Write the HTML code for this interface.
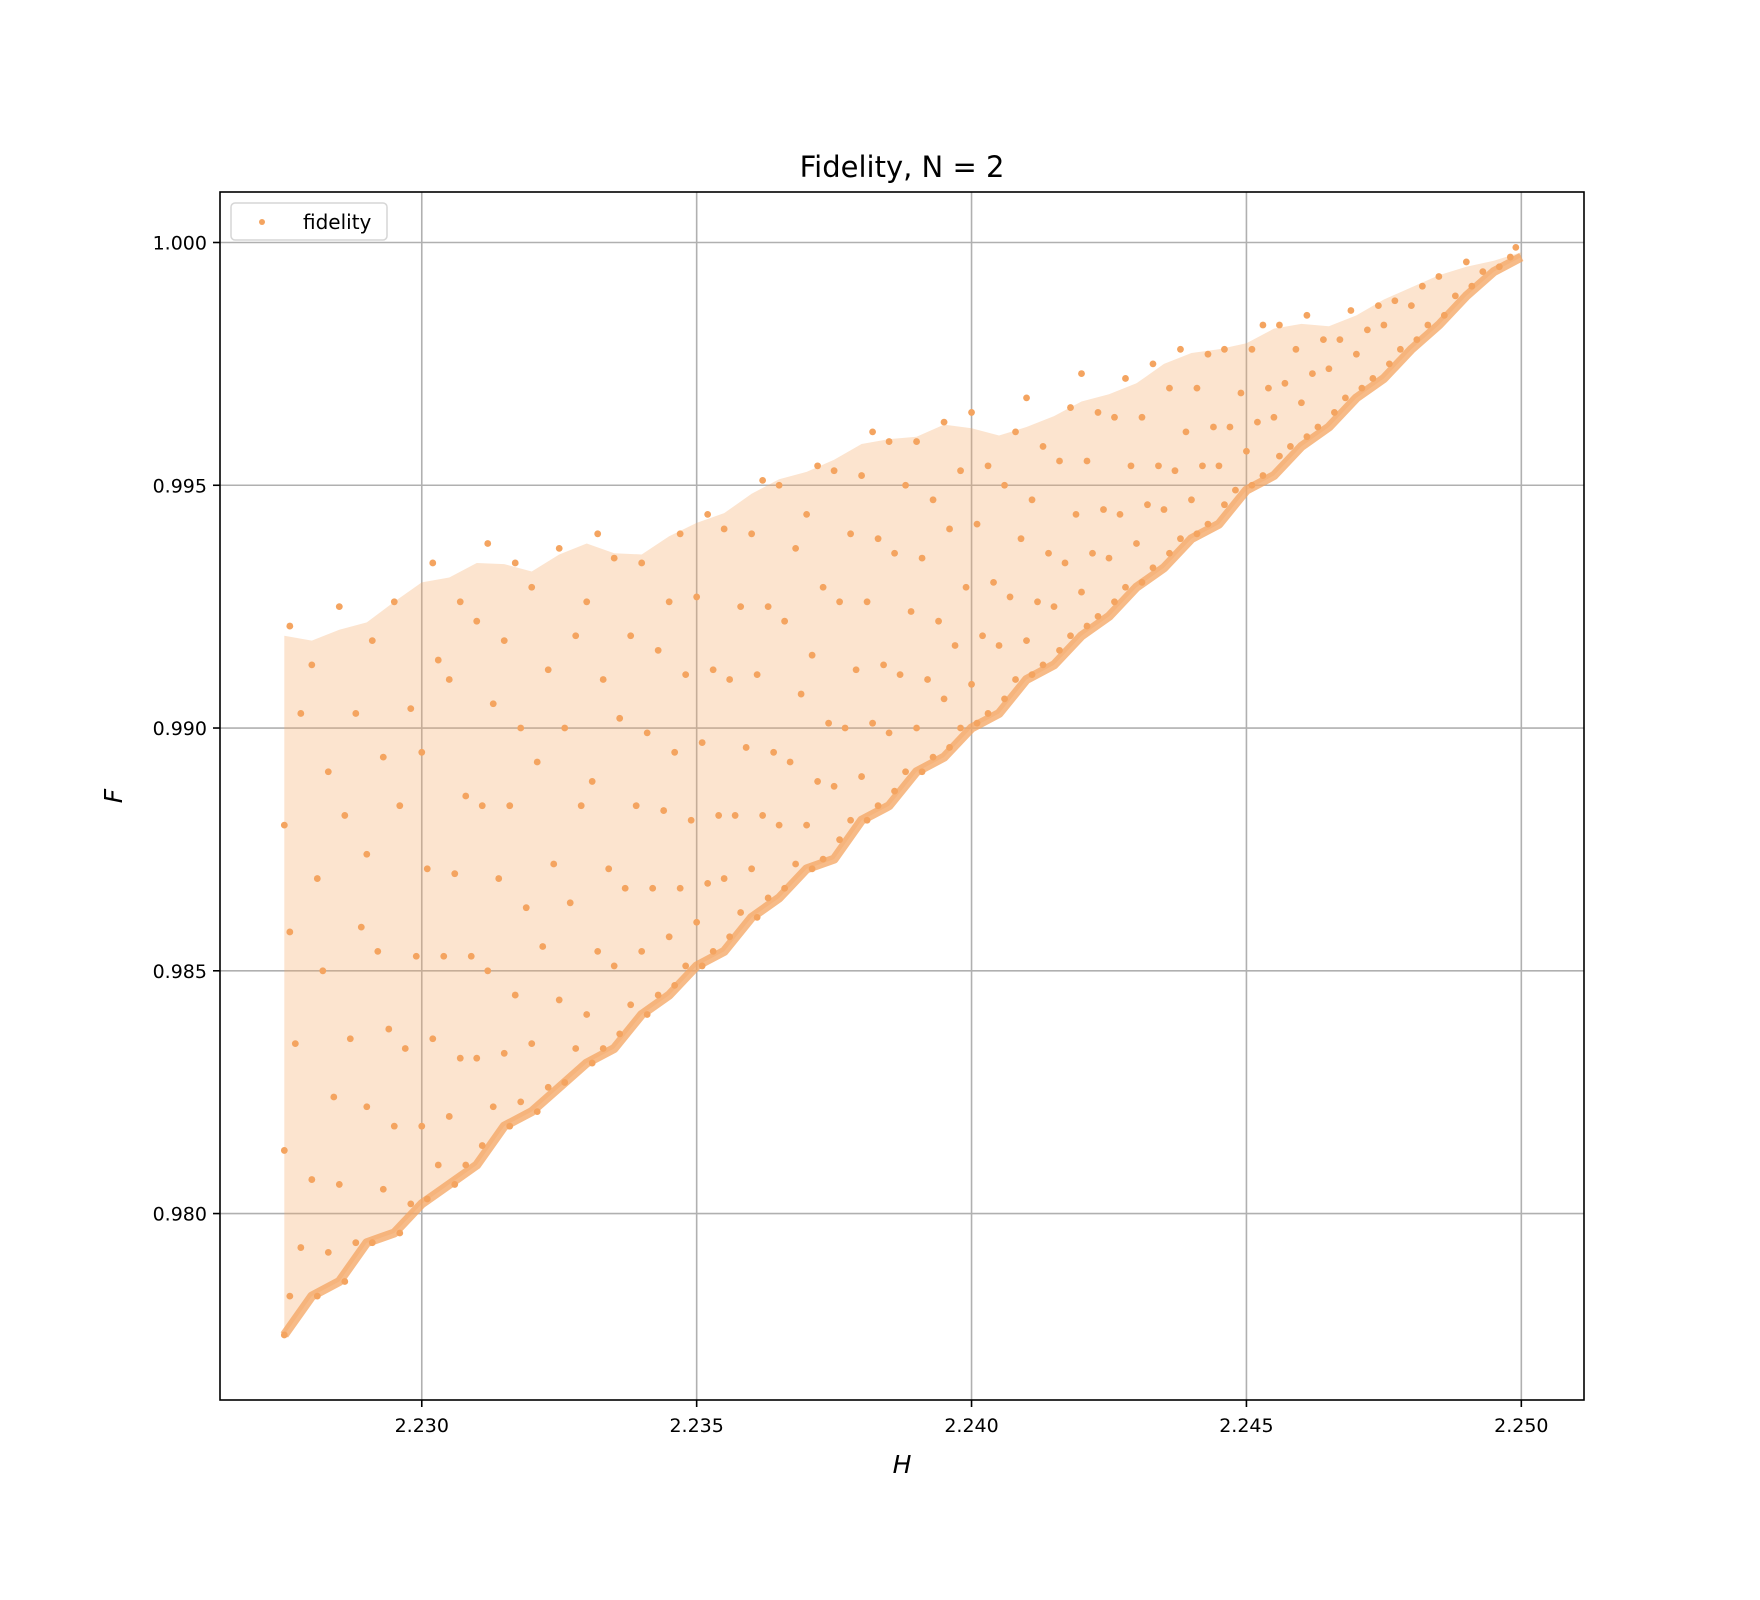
<!DOCTYPE html>
<html><head><meta charset="utf-8"><style>
html,body{margin:0;padding:0;background:#fff;}
svg{display:block;font-family:"DejaVu Sans","Liberation Sans",sans-serif;}
</style></head><body>
<svg id="chart" width="1760" height="1600" viewBox="0 0 1760 1600" xmlns="http://www.w3.org/2000/svg">
<rect width="1760" height="1600" fill="#fff"/>
<text x="902" y="177" font-size="29" text-anchor="middle">Fidelity, N = 2</text>
<g id="grid"></g>
<g id="density"></g>
<g id="points"></g>
<g id="axes"></g>
<text x="902" y="1473" font-size="25" font-style="italic" text-anchor="middle">H</text>
<text x="0" y="0" font-size="25" font-style="italic" text-anchor="middle" transform="translate(122,796) rotate(-90)">F</text>
<g>
<rect x="231" y="203" width="156" height="37" rx="4" fill="#fff" fill-opacity="0.8" stroke="#d6d6d6" stroke-width="1.5"/>
<circle cx="262" cy="222" r="3" fill="#f4a460"/>
<text x="303" y="229" font-size="20">fidelity</text>
</g>
</svg>
<script>
const xTicks = [2.230, 2.235, 2.240, 2.245, 2.250];
const xTickLabels = ["2.230", "2.235", "2.240", "2.245", "2.250"];
const yTicks = [0.980, 0.985, 0.990, 0.995, 1.000];
const yTickLabels = ["0.980", "0.985", "0.990", "0.995", "1.000"];
const xDomain = [2.22633, 2.25114];
const yDomain = [0.97616, 1.00104];
const fidelityPoints = [
[2.2275,.9775],[2.2276,.9783],[2.2278,.9793],[2.2275,.9813],[2.2277,.9835],[2.2276,.9858],[2.2275,.9880],[2.2278,.9903],[2.2276,.9921],
[2.2281,.9783],[2.2283,.9792],[2.2280,.9807],[2.2284,.9824],[2.2282,.9850],[2.2281,.9869],[2.2283,.9891],[2.2280,.9913],
[2.2286,.9786],[2.2288,.9794],[2.2285,.9806],[2.2287,.9836],[2.2289,.9859],[2.2286,.9882],[2.2288,.9903],[2.2285,.9925],
[2.2291,.9794],[2.2293,.9805],[2.2290,.9822],[2.2294,.9838],[2.2292,.9854],[2.2290,.9874],[2.2293,.9894],[2.2291,.9918],
[2.2296,.9796],[2.2298,.9802],[2.2295,.9818],[2.2297,.9834],[2.2299,.9853],[2.2296,.9884],[2.2298,.9904],[2.2295,.9926],
[2.2301,.9803],[2.2303,.9810],[2.2300,.9818],[2.2302,.9836],[2.2304,.9853],[2.2301,.9871],[2.2300,.9895],[2.2303,.9914],[2.2302,.9934],
[2.2306,.9806],[2.2308,.9810],[2.2305,.9820],[2.2307,.9832],[2.2309,.9853],[2.2306,.9870],[2.2308,.9886],[2.2305,.9910],[2.2307,.9926],
[2.2311,.9814],[2.2313,.9822],[2.2310,.9832],[2.2312,.9850],[2.2314,.9869],[2.2311,.9884],[2.2313,.9905],[2.2310,.9922],[2.2312,.9938],
[2.2316,.9818],[2.2318,.9823],[2.2315,.9833],[2.2317,.9845],[2.2319,.9863],[2.2316,.9884],[2.2318,.9900],[2.2315,.9918],[2.2317,.9934],
[2.2321,.9821],[2.2323,.9826],[2.2320,.9835],[2.2322,.9855],[2.2324,.9872],[2.2321,.9893],[2.2323,.9912],[2.2320,.9929],
[2.2326,.9827],[2.2328,.9834],[2.2325,.9844],[2.2327,.9864],[2.2329,.9884],[2.2326,.9900],[2.2328,.9919],[2.2325,.9937],
[2.2331,.9831],[2.2333,.9834],[2.2330,.9841],[2.2332,.9854],[2.2334,.9871],[2.2331,.9889],[2.2333,.9910],[2.2330,.9926],[2.2332,.9940],
[2.2336,.9837],[2.2338,.9843],[2.2335,.9851],[2.2337,.9867],[2.2339,.9884],[2.2336,.9902],[2.2338,.9919],[2.2335,.9935],
[2.2341,.9841],[2.2343,.9845],[2.2340,.9854],[2.2342,.9867],[2.2344,.9883],[2.2341,.9899],[2.2343,.9916],[2.2340,.9934],
[2.2346,.9847],[2.2348,.9851],[2.2345,.9857],[2.2347,.9867],[2.2349,.9881],[2.2346,.9895],[2.2348,.9911],[2.2345,.9926],[2.2347,.9940],
[2.2351,.9851],[2.2353,.9854],[2.2350,.9860],[2.2352,.9868],[2.2354,.9882],[2.2351,.9897],[2.2353,.9912],[2.2350,.9927],[2.2352,.9944],
[2.2356,.9857],[2.2358,.9862],[2.2355,.9869],[2.2357,.9882],[2.2359,.9896],[2.2356,.9910],[2.2358,.9925],[2.2355,.9941],
[2.2361,.9861],[2.2363,.9865],[2.2360,.9871],[2.2362,.9882],[2.2364,.9895],[2.2361,.9911],[2.2363,.9925],[2.2360,.9940],[2.2362,.9951],
[2.2366,.9867],[2.2368,.9872],[2.2365,.9880],[2.2367,.9893],[2.2369,.9907],[2.2366,.9922],[2.2368,.9937],[2.2365,.9950],
[2.2371,.9871],[2.2373,.9873],[2.2370,.9880],[2.2372,.9889],[2.2374,.9901],[2.2371,.9915],[2.2373,.9929],[2.2370,.9944],[2.2372,.9954],
[2.2376,.9877],[2.2378,.9881],[2.2375,.9888],[2.2377,.9900],[2.2379,.9912],[2.2376,.9926],[2.2378,.9940],[2.2375,.9953],
[2.2381,.9881],[2.2383,.9884],[2.2380,.9890],[2.2382,.9901],[2.2384,.9913],[2.2381,.9926],[2.2383,.9939],[2.2380,.9952],[2.2382,.9961],
[2.2386,.9887],[2.2388,.9891],[2.2385,.9899],[2.2387,.9911],[2.2389,.9924],[2.2386,.9936],[2.2388,.9950],[2.2385,.9959],
[2.2391,.9891],[2.2393,.9894],[2.2390,.9900],[2.2392,.9910],[2.2394,.9922],[2.2391,.9935],[2.2393,.9947],[2.2390,.9959],
[2.2396,.9896],[2.2398,.9900],[2.2395,.9906],[2.2397,.9917],[2.2399,.9929],[2.2396,.9941],[2.2398,.9953],[2.2395,.9963],
[2.2401,.9901],[2.2403,.9903],[2.2400,.9909],[2.2402,.9919],[2.2404,.9930],[2.2401,.9942],[2.2403,.9954],[2.2400,.9965],
[2.2406,.9906],[2.2408,.9910],[2.2405,.9917],[2.2407,.9927],[2.2409,.9939],[2.2406,.9950],[2.2408,.9961],
[2.2411,.9911],[2.2413,.9913],[2.2410,.9918],[2.2412,.9926],[2.2414,.9936],[2.2411,.9947],[2.2413,.9958],[2.2410,.9968],
[2.2416,.9916],[2.2418,.9919],[2.2415,.9925],[2.2417,.9934],[2.2419,.9944],[2.2416,.9955],[2.2418,.9966],
[2.2421,.9921],[2.2423,.9923],[2.2420,.9928],[2.2422,.9936],[2.2424,.9945],[2.2421,.9955],[2.2423,.9965],[2.2420,.9973],
[2.2426,.9926],[2.2428,.9929],[2.2425,.9935],[2.2427,.9944],[2.2429,.9954],[2.2426,.9964],[2.2428,.9972],
[2.2431,.9930],[2.2433,.9933],[2.2430,.9938],[2.2432,.9946],[2.2434,.9954],[2.2431,.9964],[2.2433,.9975],
[2.2436,.9936],[2.2438,.9939],[2.2435,.9945],[2.2437,.9953],[2.2439,.9961],[2.2436,.9970],[2.2438,.9978],
[2.2441,.9940],[2.2443,.9942],[2.2440,.9947],[2.2442,.9954],[2.2444,.9962],[2.2441,.9970],[2.2443,.9977],
[2.2446,.9946],[2.2448,.9949],[2.2445,.9954],[2.2447,.9962],[2.2449,.9969],[2.2446,.9978],
[2.2451,.9950],[2.2453,.9952],[2.2450,.9957],[2.2452,.9963],[2.2454,.9970],[2.2451,.9978],[2.2453,.9983],
[2.2456,.9956],[2.2458,.9958],[2.2455,.9964],[2.2457,.9971],[2.2459,.9978],[2.2456,.9983],
[2.2461,.9960],[2.2463,.9962],[2.2460,.9967],[2.2462,.9973],[2.2464,.9980],[2.2461,.9985],
[2.2466,.9965],[2.2468,.9968],[2.2465,.9974],[2.2467,.9980],[2.2469,.9986],
[2.2471,.9970],[2.2473,.9972],[2.2470,.9977],[2.2472,.9982],[2.2474,.9987],
[2.2476,.9975],[2.2478,.9978],[2.2475,.9983],[2.2477,.9988],
[2.2481,.9980],[2.2483,.9983],[2.2480,.9987],[2.2482,.9991],
[2.2486,.9985],[2.2488,.9989],[2.2485,.9993],
[2.2491,.9991],[2.2493,.9994],[2.2490,.9996],
[2.2496,.9995],[2.2498,.9997],[2.2499,.9999]
];
const NS = "http://www.w3.org/2000/svg";
const plotL = 220, plotR = 1584, plotT = 192, plotB = 1400;
function xScale(v){ return plotL + (v - xDomain[0]) / (xDomain[1] - xDomain[0]) * (plotR - plotL); }
function yScale(v){ return plotB - (v - yDomain[0]) / (yDomain[1] - yDomain[0]) * (plotB - plotT); }
function mk(tag, attrs, parent){ const e = document.createElementNS(NS, tag); for (const k in attrs) e.setAttribute(k, attrs[k]); parent.appendChild(e); return e; }
const grid = document.getElementById('grid');
const axes = document.getElementById('axes');
xTicks.forEach((t, i) => {
  const x = xScale(t);
  const g = mk('line', {x1:x, x2:x, y1:plotT, y2:plotB, stroke:'#b0b0b0', 'stroke-width':1.6}, grid);
  
  
  const tk = mk('line', {x1:x, x2:x, y1:plotB, y2:plotB+7, stroke:'#000', 'stroke-width':1.6}, axes);
  
  
  const lb = mk('text', {x:x, y:plotB+32, 'font-size':19, 'text-anchor':'middle'}, axes);
  lb.textContent = xTickLabels[i];
  
  
});
yTicks.forEach((t, i) => {
  const y = yScale(t);
  const g = mk('line', {x1:plotL, x2:plotR, y1:y, y2:y, stroke:'#b0b0b0', 'stroke-width':1.6}, grid);
  
  
  const tk = mk('line', {x1:plotL-7, x2:plotL, y1:y, y2:y, stroke:'#000', 'stroke-width':1.6}, axes);
  
  
  const lb = mk('text', {x:plotL-13, y:y+7, 'font-size':19, 'text-anchor':'end'}, axes);
  lb.textContent = yTickLabels[i];
  
  
});
const frame = mk('rect', {x:plotL, y:plotT, width:plotR-plotL, height:plotB-plotT, fill:'none', stroke:'#000', 'stroke-width':1.6}, axes);


const bins = {};
fidelityPoints.forEach(p => { const b = Math.round((p[0] - 2.2275) / 0.0005); if (!bins[b]) bins[b] = [p[1], p[1]]; bins[b][0] = Math.min(bins[b][0], p[1]); bins[b][1] = Math.max(bins[b][1], p[1]); });
const keys = Object.keys(bins).map(Number).sort((a,b)=>a-b);
const upVals = keys.map((k, i) => { const a = bins[keys[Math.max(0,i-1)]][1], b = bins[k][1], c = bins[keys[Math.min(keys.length-1,i+1)]][1]; return (a + 2*b + c) / 4; });
let up = [], lo = [], loLine = [];
keys.forEach((k, i) => { const hx = 2.2275 + k*0.0005; up.push(xScale(hx)+','+yScale(upVals[i])); lo.unshift(xScale(hx)+','+yScale(bins[k][0])); loLine.push(xScale(hx)+','+yScale(bins[k][0])); });
const dens = mk('polygon', {points: up.concat(lo).join(' '), fill:'#f4a460', 'fill-opacity':0.3}, document.getElementById('density'));


const edge = mk('polyline', {points: loLine.join(' '), fill:'none', stroke:'#f4a460', 'stroke-width':9, 'stroke-opacity':0.75, 'stroke-linejoin':'round'}, document.getElementById('density'));


const pg = document.getElementById('points');
fidelityPoints.forEach(p => {
  const c = mk('circle', {cx:xScale(p[0]), cy:yScale(p[1]), r:3.4, fill:'#f4a460'}, pg);
  
  
});
</script>
</body></html>
